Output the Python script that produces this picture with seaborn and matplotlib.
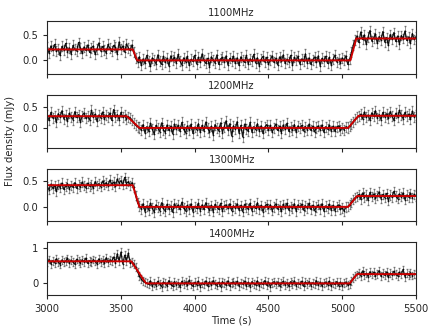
import numpy as np
import pandas as pd
import matplotlib
matplotlib.use('Agg')
import matplotlib.pyplot as plt
import seaborn as sns

# sample times (s), one every 12.5 s
time_s = np.arange(3000, 5500.1, 12.5)

freqs = ['1100MHz', '1200MHz', '1300MHz', '1400MHz']

flux_1100 = [
    0.25, 0.14, 0.28, 0.19, 0.31, 0.17, 0.22, 0.09, 0.27, 0.20,
    0.33, 0.16, 0.24, 0.12, 0.29, 0.21, 0.18, 0.35, 0.23, 0.13,
    0.26, 0.19, 0.30, 0.15, 0.24, 0.28, 0.11, 0.22, 0.34, 0.18,
    0.27, 0.20, 0.14, 0.31, 0.23, 0.17, 0.29, 0.25, 0.12, 0.36,
    0.21, 0.28, 0.16, 0.32, 0.24, 0.19, 0.30,
    0.15, 0.03,
    -0.04, 0.06, -0.11, 0.02, -0.07, 0.09, -0.02, -0.13, 0.04, 0.00,
    -0.08, 0.10, -0.03, -0.09, 0.07, -0.05, 0.03, -0.12, 0.08, -0.01,
    0.05, -0.06, 0.11, -0.02, -0.10, 0.04, -0.04, 0.07, -0.11, 0.01,
    -0.03, 0.09, -0.08, 0.05, -0.05, 0.12, -0.01, -0.07, 0.03, -0.14,
    0.06, 0.00, -0.06, 0.10, -0.09, 0.02, 0.05, -0.04, 0.08, -0.10,
    0.03, -0.02, 0.07, -0.07, 0.04, -0.11, 0.06, -0.01, -0.05, 0.09,
    -0.08, 0.02, -0.03, 0.11, -0.06, 0.04, -0.12, 0.01, 0.07, -0.04,
    0.05, -0.09, 0.00, 0.08, -0.05, 0.03, -0.10, 0.06, -0.02, 0.10,
    -0.07, 0.01, -0.04, 0.09, -0.11, 0.05, -0.01, 0.07, -0.08, 0.02,
    -0.03, 0.12, -0.06, 0.04, -0.09, 0.00, 0.06, -0.05, 0.08, -0.12,
    0.03, -0.02, 0.07, -0.07, 0.05, -0.10, 0.01, 0.09, -0.04, 0.02,
    -0.06, 0.04, -0.01, 0.08, -0.09,
    0.02, 0.15, 0.30, 0.40,
    0.48, 0.35, 0.56, 0.41, 0.50, 0.31, 0.46, 0.59, 0.38, 0.44,
    0.52, 0.33, 0.47, 0.40, 0.57, 0.36, 0.45, 0.29, 0.51, 0.42,
    0.55, 0.37, 0.48, 0.32, 0.49, 0.43, 0.58, 0.39, 0.46, 0.34,
    0.53, 0.41, 0.47]

flux_1200 = [
    0.31, 0.18, 0.37, 0.24, 0.29, 0.15, 0.34, 0.26, 0.41, 0.22,
    0.30, 0.17, 0.35, 0.27, 0.20, 0.39, 0.25, 0.32, 0.14, 0.29,
    0.36, 0.23, 0.28, 0.19, 0.42, 0.26, 0.33, 0.16, 0.31, 0.24,
    0.38, 0.21, 0.30, 0.27, 0.35, 0.18, 0.44, 0.25, 0.32, 0.20,
    0.37, 0.26, 0.30, 0.22,
    0.27, 0.24, 0.18, 0.12, 0.06, 0.03, 0.01,
    -0.05, 0.08, -0.12, 0.03, -0.08, 0.11, -0.02, -0.15, 0.06, 0.00,
    -0.09, 0.12, -0.04, -0.11, 0.07, -0.06, 0.04, -0.14, 0.09, -0.02,
    0.06, -0.08, 0.13, -0.03, -0.12, 0.05, -0.05, 0.09, -0.13, 0.02,
    -0.04, 0.10, -0.10, 0.06, -0.07, 0.14, -0.01, -0.09, 0.04, -0.16,
    0.08, 0.00, -0.07, 0.12, -0.11, 0.03, 0.17, -0.05, 0.10, -0.19,
    0.05, -0.03, 0.15, -0.12, 0.06, -0.21, 0.09, -0.02, -0.08, 0.13,
    -0.10, 0.03, -0.04, 0.10, -0.07, 0.05, -0.13, 0.02, 0.08, -0.05,
    0.06, -0.10, 0.00, 0.09, -0.06, 0.04, -0.11, 0.07, -0.03, 0.11,
    -0.08, 0.02, -0.05, 0.08, -0.10, 0.05, -0.01, 0.06, -0.07, 0.03,
    -0.04, 0.09, -0.06, 0.04, -0.09, 0.01, 0.05, -0.05, 0.07, -0.10,
    0.03, -0.03, 0.06, -0.07, 0.04, -0.08, 0.02, 0.05, -0.06, 0.00,
    -0.04, 0.03,
    0.01, 0.04, 0.09, 0.15, 0.21, 0.25, 0.28,
    0.33, 0.22, 0.38, 0.26, 0.31, 0.19, 0.36, 0.28, 0.41, 0.24,
    0.32, 0.20, 0.37, 0.27, 0.34, 0.23, 0.39, 0.29, 0.18, 0.35,
    0.26, 0.42, 0.30, 0.22, 0.37, 0.28, 0.33, 0.21, 0.40, 0.27,
    0.31]

flux_1300 = [
    0.39, 0.33, 0.44, 0.36, 0.41, 0.30, 0.43, 0.37, 0.46, 0.34,
    0.40, 0.45, 0.35, 0.42, 0.38, 0.47, 0.36, 0.43, 0.39, 0.48,
    0.41, 0.37, 0.46, 0.40, 0.44, 0.36, 0.49, 0.42, 0.45, 0.39,
    0.50, 0.43, 0.47, 0.41, 0.52, 0.44, 0.48, 0.40, 0.54, 0.46,
    0.51, 0.43, 0.57, 0.45, 0.49, 0.42, 0.47,
    0.38, 0.22, 0.08, 0.02,
    -0.04, 0.06, -0.09, 0.02, -0.06, 0.07, -0.02, -0.10, 0.04, 0.00,
    -0.07, 0.08, -0.03, -0.08, 0.05, -0.04, 0.02, -0.10, 0.06, -0.01,
    0.04, -0.05, 0.09, -0.02, -0.08, 0.03, -0.04, 0.06, -0.09, 0.01,
    -0.03, 0.07, -0.07, 0.04, -0.05, 0.08, -0.01, -0.06, 0.03, -0.09,
    0.05, 0.00, -0.05, 0.07, -0.08, 0.02, 0.04, -0.03, 0.06, -0.07,
    0.02, -0.02, 0.06, -0.06, 0.03, -0.09, 0.05, -0.01, -0.04, 0.07,
    -0.07, 0.02, -0.03, 0.08, -0.05, 0.03, -0.09, 0.01, 0.05, -0.03,
    0.04, -0.07, 0.00, 0.06, -0.04, 0.02, -0.08, 0.05, -0.02, 0.07,
    -0.06, 0.01, -0.03, 0.06, -0.08, 0.04, -0.01, 0.05, -0.06, 0.02,
    -0.02, 0.07, -0.05, 0.03, -0.07, 0.00, 0.04, -0.04, 0.06, -0.08,
    0.02, -0.03, 0.05, -0.06, 0.03, -0.07, 0.01, 0.04, -0.05, -0.02,
    -0.08, 0.00,
    0.01, 0.04, 0.09, 0.14, 0.18, 0.20,
    0.24, 0.15, 0.27, 0.19, 0.23, 0.13, 0.28, 0.20, 0.25, 0.17,
    0.22, 0.29, 0.16, 0.24, 0.18, 0.26, 0.12, 0.23, 0.19, 0.30,
    0.21, 0.16, 0.25, 0.20, 0.27, 0.14, 0.23, 0.19, 0.26, 0.18,
    0.24, 0.21]

flux_1400 = [
    0.60, 0.67, 0.55, 0.64, 0.58, 0.69, 0.61, 0.53, 0.66, 0.59,
    0.63, 0.70, 0.57, 0.65, 0.60, 0.54, 0.68, 0.62, 0.58, 0.66,
    0.61, 0.71, 0.56, 0.64, 0.59, 0.67, 0.62, 0.55, 0.69, 0.60,
    0.65, 0.58, 0.72, 0.61, 0.66, 0.63,
    0.74, 0.58, 0.83, 0.62, 0.88, 0.55, 0.79, 0.64, 0.85, 0.57,
    0.60, 0.55, 0.45, 0.33, 0.21, 0.12, 0.06, 0.03, 0.01,
    -0.03, 0.07, -0.08, 0.02, -0.06, 0.06, -0.02, -0.09, 0.04, 0.00,
    -0.07, 0.08, -0.03, -0.08, 0.05, -0.04, 0.02, -0.10, 0.06, -0.01,
    0.04, -0.05, 0.09, -0.02, -0.08, 0.03, -0.04, 0.06, -0.09, 0.01,
    -0.03, 0.07, -0.07, 0.04, -0.05, 0.08, -0.01, -0.06, 0.03, -0.09,
    0.05, 0.00, -0.05, 0.07, -0.08, 0.02, 0.04, -0.03, 0.06, -0.07,
    0.02, -0.02, 0.06, -0.06, 0.03, -0.09, 0.05, -0.01, -0.04, 0.07,
    -0.07, 0.02, -0.03, 0.08, -0.05, 0.03, -0.09, 0.01, 0.05, -0.03,
    0.04, -0.07, 0.00, 0.06, -0.04, 0.02, -0.08, 0.05, -0.02, 0.07,
    -0.06, 0.01, -0.03, 0.06, -0.08, 0.04, -0.01, 0.05, -0.06, 0.02,
    -0.02, 0.07, -0.05, 0.03, -0.07, 0.00, 0.04, -0.04, 0.06, -0.08,
    0.02, -0.03, 0.05, -0.06, 0.03, -0.07, 0.01, 0.04, -0.05, -0.02,
    0.06, 0.14, 0.21, 0.25,
    0.30, 0.21, 0.35, 0.24, 0.28, 0.19, 0.33, 0.25, 0.31, 0.22,
    0.27, 0.36, 0.20, 0.29, 0.23, 0.32, 0.18, 0.28, 0.24, 0.34,
    0.26, 0.21, 0.31, 0.25, 0.39, 0.19, 0.28, 0.23, 0.30, 0.22,
    0.27, 0.25]

flux_err = [0.10, 0.12, 0.09, 0.11]

# fitted model (red line), break points
model_t = [[3000, 3580, 3610, 5055, 5095, 5500],
           [3000, 3540, 3625, 5040, 5110, 5500],
           [3000, 3580, 3625, 5040, 5100, 5500],
           [3000, 3570, 3670, 5050, 5100, 5500]]
model_f = [[0.21, 0.21, -0.01, -0.01, 0.43, 0.43],
           [0.28, 0.28, 0.00, 0.00, 0.29, 0.29],
           [0.42, 0.42, 0.00, 0.00, 0.21, 0.21],
           [0.62, 0.62, 0.00, 0.00, 0.26, 0.26]]

ylims = [(-0.28, 0.78), (-0.47, 0.79), (-0.28, 0.74), (-0.33, 1.15)]
yticks = [[0.0, 0.5], [0.0, 0.5], [0.0, 0.5], [0, 1]]

sns.set_style('ticks')
plt.rcParams['font.family'] = ['DejaVu Sans']
plt.rcParams['font.size'] = 7.2

fig, axes = plt.subplots(4, 1, figsize=(4.37, 3.35), dpi=100, sharex=True)
fig.subplots_adjust(left=0.108, right=0.952, top=0.937, bottom=0.119, hspace=0.4)

all_flux = [flux_1100, flux_1200, flux_1300, flux_1400]
for i, ax in enumerate(axes):
    df = pd.DataFrame({'t': time_s, 'flux': all_flux[i]})
    ax.errorbar(df['t'], df['flux'], yerr=flux_err[i], fmt='none',
                ecolor='black', elinewidth=0.6, capsize=0.8, alpha=0.45)
    sns.lineplot(data=df, x='t', y='flux', ax=ax, color='black', lw=0.9,
                 alpha=0.9, marker='.', markersize=2.5, markeredgewidth=0)
    mdf = pd.DataFrame({'t': model_t[i], 'flux': model_f[i]})
    sns.lineplot(data=mdf, x='t', y='flux', ax=ax, color='#cc0000', lw=1.4)
    ax.set_title(freqs[i], fontsize=7.2, pad=4)
    ax.set_ylim(ylims[i])
    ax.set_yticks(yticks[i])
    ax.set_xlim(3000, 5500)
    ax.set_ylabel('')
    ax.set_xlabel('')
    ax.tick_params(labelsize=7.2, length=3, width=0.8)
    for sp in ax.spines.values():
        sp.set_linewidth(0.8)

axes[-1].set_xticks([3000, 3500, 4000, 4500, 5000, 5500])
axes[-1].set_xlabel('Time (s)', fontsize=7.2, labelpad=1)
fig.text(0.022, 0.58, 'Flux density (mJy)', rotation=90, fontsize=7.2,
         ha='center', va='center')

fig.savefig('out.png', dpi=100)
